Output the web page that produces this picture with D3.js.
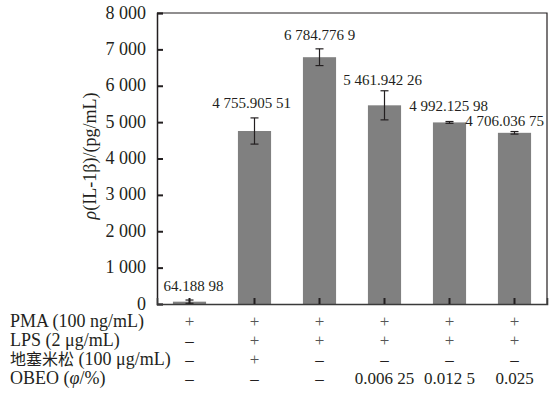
<!DOCTYPE html>
<html>
<head>
<meta charset="utf-8">
<script src="https://cdn.jsdelivr.net/npm/d3@7"></script>
<style>
  body { margin: 0; background: #fff; }
  svg { display: block; font-family: "Liberation Serif", "Times New Roman", serif; }
</style>
</head>
<body>
<div id="chart"></div>
<script>
// data
const groups = ["g1", "g2", "g3", "g4", "g5", "g6"];
const values = [64.18898, 4755.90551, 6784.7769, 5461.94226, 4992.12598, 4706.03675];
const errors = [45, 360, 230, 400, 25, 35];
const valueLabels = ["64.188 98", "4 755.905 51", "6 784.776 9", "5 461.942 26", "4 992.125 98", "4 706.036 75"];
const yTicks = [0, 1000, 2000, 3000, 4000, 5000, 6000, 7000, 8000];

const rowLabels = ["PMA (100 ng/mL)", "LPS (2 μg/mL)", "地塞米松 (100 μg/mL)", "OBEO (φ/%)"];
const rowPMA = ["+", "+", "+", "+", "+", "+"];
const rowLPS = ["–", "+", "+", "+", "+", "+"];
const rowDex = ["–", "+", "–", "–", "–", "–"];
const rowOBEO = ["–", "–", "–", "0.006 25", "0.012 5", "0.025"];
const rows = [rowPMA, rowLPS, rowDex, rowOBEO];

const cfg = {
  width: 558,
  height: 398,
  margin: { left: 157, right: 11, top: 13, bottom: 94 }
};

const fmt = d => d === 0 ? "0" : d3.format(",")(d).replace(/,/g, " ");

const svg = d3.select("#chart").append("svg")
  .attr("width", cfg.width)
  .attr("height", cfg.height);

const x = d3.scaleBand()
  .domain(groups)
  .range([cfg.margin.left, cfg.width - cfg.margin.right])
  .paddingInner(0.49)
  .paddingOuter(0.245);

const y = d3.scaleLinear()
  .domain([0, 8000])
  .range([cfg.height - cfg.margin.bottom, cfg.margin.top]);

const x0 = cfg.margin.left, x1 = cfg.width - cfg.margin.right;
const y0 = cfg.height - cfg.margin.bottom, y1 = cfg.margin.top;

// bars
svg.append("g")
  .selectAll("rect")
  .data(values)
  .join("rect")
  .attr("x", (d, i) => x(groups[i]))
  .attr("y", d => y(d))
  .attr("width", x.bandwidth())
  .attr("height", d => y0 - y(d))
  .attr("fill", "#808080");

// error bars
const eb = svg.append("g").attr("stroke", "#231f20").attr("stroke-width", 1.2);
values.forEach((v, i) => {
  const cx = x(groups[i]) + x.bandwidth() / 2;
  const top = y(v + errors[i]), bot = y(Math.max(0, v - errors[i]));
  eb.append("line").attr("x1", cx).attr("x2", cx).attr("y1", top).attr("y2", bot);
  eb.append("line").attr("x1", cx - 4).attr("x2", cx + 4).attr("y1", top).attr("y2", top);
  eb.append("line").attr("x1", cx - 4).attr("x2", cx + 4).attr("y1", bot).attr("y2", bot);
});

// value labels
const labelDx = [4, -3, 0, -2, -1, -10];
const labelDy = [-9, -10, -9, -6, -11, -6];
svg.append("g")
  .selectAll("text")
  .data(valueLabels)
  .join("text")
  .attr("x", (d, i) => x(groups[i]) + x.bandwidth() / 2 + labelDx[i])
  .attr("y", (d, i) => y(values[i] + errors[i]) + labelDy[i])
  .attr("text-anchor", "middle")
  .attr("font-size", 15)
  .attr("fill", "#231f20")
  .text(d => d);

// frame
svg.append("path")
  .attr("d", `M${x0},${y1}H${x1}V${y0}`)
  .attr("fill", "none")
  .attr("stroke", "#231f20")
  .attr("stroke-width", 1.2);

// y axis (ticks inside)
const yAxis = d3.axisRight(y).tickValues(yTicks).tickSize(6).tickFormat("");
const ya = svg.append("g")
  .attr("transform", `translate(${x0},0)`)
  .call(yAxis);
ya.select(".domain").attr("stroke", "#231f20").attr("stroke-width", 1.5);
ya.selectAll(".tick line").attr("stroke", "#231f20").attr("stroke-width", 2);

svg.append("g")
  .selectAll("text")
  .data(yTicks)
  .join("text")
  .attr("x", x0 - 11)
  .attr("y", d => y(d) + 5.5)
  .attr("text-anchor", "end")
  .attr("font-size", 18)
  .attr("fill", "#231f20")
  .text(fmt);

// x axis (ticks inside, at bar centres)
const xAxis = d3.axisTop(x).tickSize(6).tickFormat("");
const xa = svg.append("g")
  .attr("transform", `translate(0,${y0})`)
  .call(xAxis);
xa.select(".domain").attr("stroke", "#3a3a3a").attr("stroke-width", 1.6);
xa.selectAll(".tick line").attr("stroke", "#231f20").attr("stroke-width", 2);

// y title
svg.append("text")
  .attr("transform", `translate(96,156) rotate(-90)`)
  .attr("text-anchor", "middle")
  .attr("font-size", 18)
  .attr("fill", "#231f20")
  .call(t => {
    t.append("tspan").attr("font-style", "italic").text("ρ");
    t.append("tspan").text("(IL-1β)/(pg/mL)");
  });

// treatment table
const rowY = [327, 346, 365, 384];
const table = svg.append("g").attr("font-size", 18).attr("fill", "#231f20");
rowLabels.forEach((lab, r) => {
  const t = table.append("text").attr("x", 10).attr("y", rowY[r]);
  if (r === 2) {
    t.append("tspan").attr("font-family", "Noto Sans CJK SC").attr("font-size", 16).text("地塞米松");
    t.append("tspan").text(" (100 μg/mL)");
  } else if (r === 3) {
    t.append("tspan").text("OBEO (");
    t.append("tspan").attr("font-style", "italic").text("φ");
    t.append("tspan").text("/%)");
  } else {
    t.text(lab);
  }
  rows[r].forEach((s, i) => {
    table.append("text")
      .attr("x", x(groups[i]) + x.bandwidth() / 2)
      .attr("y", rowY[r])
      .attr("text-anchor", "middle")
      .attr("font-size", 17)
      .attr("fill", s === "+" ? "#555" : "#231f20")
      .text(s);
  });
});
</script>
</body>
</html>
